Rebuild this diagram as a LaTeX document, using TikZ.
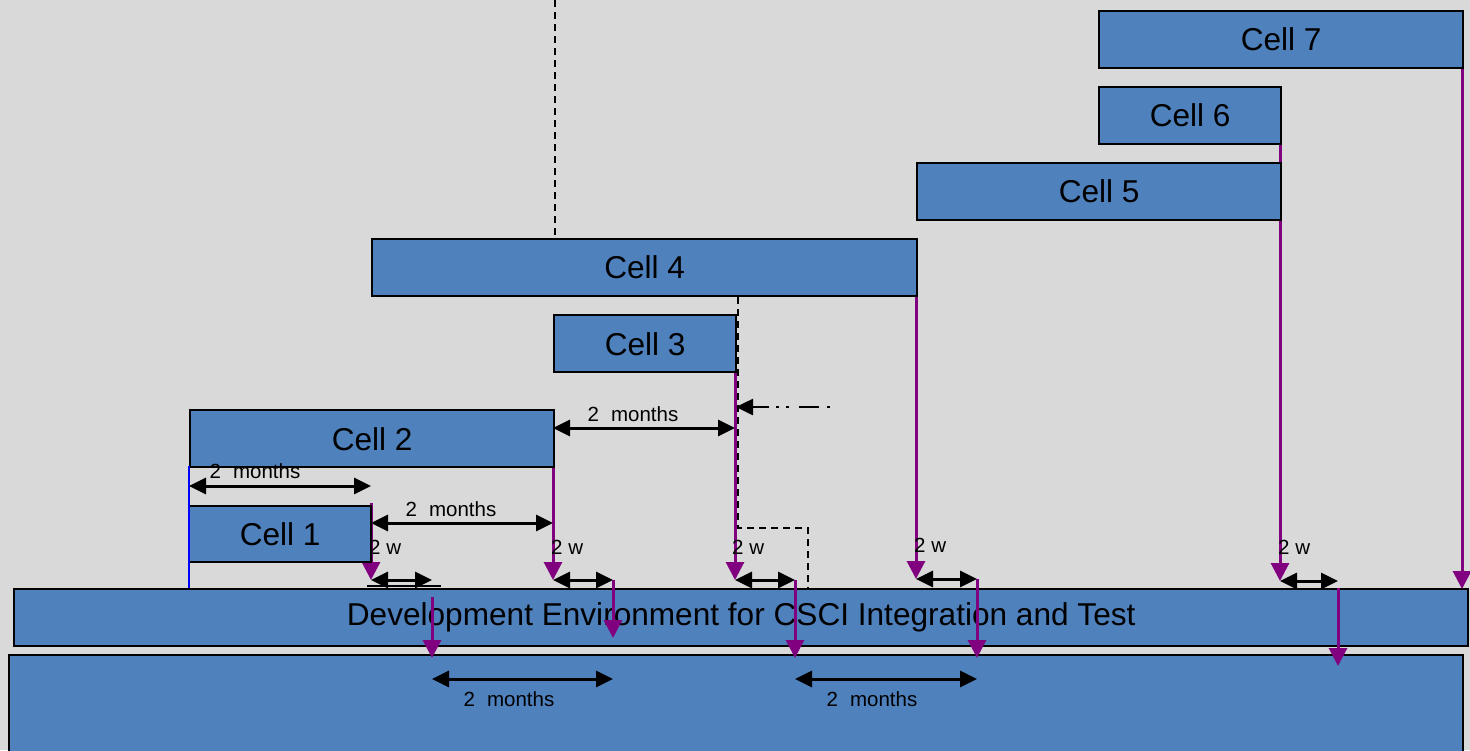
\documentclass[tikz,border=0pt]{standalone}
\usepackage{fontspec}
\setmainfont{Liberation Sans}
\usetikzlibrary{arrows.meta}
\definecolor{bg}{RGB}{217,217,217}
\definecolor{cellblue}{RGB}{79,129,189}
\definecolor{purp}{RGB}{128,0,128}
\begin{document}
\begin{tikzpicture}[x=1pt,y=-1pt,
 cellbox/.style={draw=black, line width=2.4pt, fill=cellblue, inner sep=0pt, anchor=north west, font=\fontsize{31.6}{36}\selectfont},
 purplearrow/.style={draw=purp, line width=3pt, -{Triangle[length=18pt,width=18pt]}},
 spanarrow/.style={draw=black, line width=3pt, {Triangle[length=17pt,width=16pt]}-{Triangle[length=17pt,width=16pt]}},
 lbl/.style={font=\fontsize{20.5}{24}\selectfont, inner sep=0pt},
 dashline/.style={draw=black, line width=2pt, dash pattern=on 7pt off 5pt},
]
\useasboundingbox (0,0) rectangle (1470,750);
\fill[bg] (0,0) rectangle (1470,750);

% bottom boxes
\node[cellbox, minimum width=1454pt, minimum height=57pt] (dev) at (13,588) {Development Environment for CSCI Integration and Test};
\node[cellbox, line width=1.8pt, minimum width=1454pt, minimum height=110pt] (base) at (8,654) {};

% coordinates
\coordinate (t0) at (555,0);
\coordinate (c1r) at (371,503);
\coordinate (a1) at (371,580);
\coordinate (a2) at (553,580);
\coordinate (a3) at (735,580);
\coordinate (c4r) at (916,276);
\coordinate (a4) at (916,579);
\coordinate (a5) at (1280,581);
\coordinate (a6) at (1462,589);
\coordinate (b1) at (432,580);
\coordinate (b2) at (613,580);
\coordinate (b3) at (795,580);
\coordinate (b4) at (977,579);
\coordinate (b5) at (1338,581);
\coordinate (s1) at (432,597);
\coordinate (e1) at (432,658);
\coordinate (e2) at (613,638);
\coordinate (e3) at (795,658);
\coordinate (e4) at (977,658);
\coordinate (s5) at (1338,588);
\coordinate (e5) at (1338,666);
\coordinate (d1) at (738,528);
\coordinate (d2) at (808,528);
\coordinate (d3) at (808,588);
\coordinate (dd1) at (830,407);
\coordinate (dd2) at (736,407);
\coordinate (m1a) at (189,486);
\coordinate (m1b) at (371,486);
\coordinate (m2a) at (371,523);
\coordinate (m2b) at (553,523);
\coordinate (m3a) at (553,428);
\coordinate (m3b) at (735,428);
\coordinate (m4a) at (432,679);
\coordinate (m4b) at (613,679);
\coordinate (m5a) at (795,679);
\coordinate (m5b) at (977,679);
\coordinate (bl1) at (189,466);
\coordinate (bl2) at (189,588);
\coordinate (ul1) at (367,586);
\coordinate (ul2) at (441,586);

% purple lines from cells (behind the cells)
\draw[purplearrow] (c1r) -- (a1);
\draw[purplearrow] (553,466) -- (a2);
\draw[purplearrow] (735,371) -- (a3);
\draw[purplearrow] (c4r) -- (a4);
\draw[purplearrow] (1280,143) -- (a5);
\draw[purplearrow] (1462,67) -- (a6);

% cells
\node[cellbox, minimum width=364pt, minimum height=57pt] (c7) at (1098,10) {Cell 7};
\node[cellbox, minimum width=182pt, minimum height=57pt] (c6) at (1098,86) {Cell 6};
\node[cellbox, minimum width=364pt, minimum height=57pt] (c5) at (916,162) {Cell 5};
\node[cellbox, minimum width=545pt, minimum height=57pt] (c4) at (371,238) {Cell 4};
\node[cellbox, minimum width=182pt, minimum height=57pt] (c3) at (553,314) {Cell 3};
\node[cellbox, minimum width=364pt, minimum height=57pt] (c2) at (189,409) {Cell 2};
\node[cellbox, minimum width=182pt, minimum height=56pt] (c1) at (188,505) {Cell 1};

% dashed lines
\draw[dashline] (t0) -- (c4.north west -| t0);
\draw[dashline] (c4.south -| d1) -- (d1) -- (d2) -- (d3);
\draw[draw=black, line width=2.6pt, dash pattern=on 3pt off 8pt on 20pt off 10pt on 3pt off 7pt on 3pt off 7pt on 60pt off 10pt, -{Triangle[length=17pt,width=16pt]}] (dd1) -- (dd2);

% blue line
\draw[blue, line width=2.4pt] (bl1) -- (bl2);

% month spans
\draw[spanarrow] (m1a) -- (m1b);
\node[lbl] at (255,471) {2\hspace{12pt}months};
\draw[spanarrow] (m2a) -- (m2b);
\node[lbl] at (451,509) {2\hspace{12pt}months};
\draw[spanarrow] (m3a) -- (m3b);
\node[lbl] at (633,414) {2\hspace{12pt}months};
\draw[spanarrow] (m4a) -- (m4b);
\node[lbl] at (509,699) {2\hspace{12pt}months};
\draw[spanarrow] (m5a) -- (m5b);
\node[lbl] at (872,699) {2\hspace{12pt}months};

% 2 w spans
\draw[black, line width=2pt] (ul1) -- (ul2);
\draw[spanarrow] (a1) -- (b1);
\draw[spanarrow] (a2) -- (b2);
\draw[spanarrow] (a3) -- (b3);
\draw[spanarrow] (a4) -- (b4);
\draw[spanarrow] (a5) -- (b5);
\node[lbl, anchor=west] at (369,547) {2 w};
\node[lbl, anchor=west] at (551,547) {2 w};
\node[lbl, anchor=west] at (732,547) {2 w};
\node[lbl, anchor=west] at (914,545) {2 w};
\node[lbl, anchor=west] at (1278,547) {2 w};

% purple lines down from spans
\draw[purplearrow] (s1) -- (e1);
\draw[purplearrow] (b2) -- (e2);
\draw[purplearrow] (b3) -- (e3);
\draw[purplearrow] (b4) -- (e4);
\draw[purplearrow] (s5) -- (e5);
\end{tikzpicture}
\end{document}
